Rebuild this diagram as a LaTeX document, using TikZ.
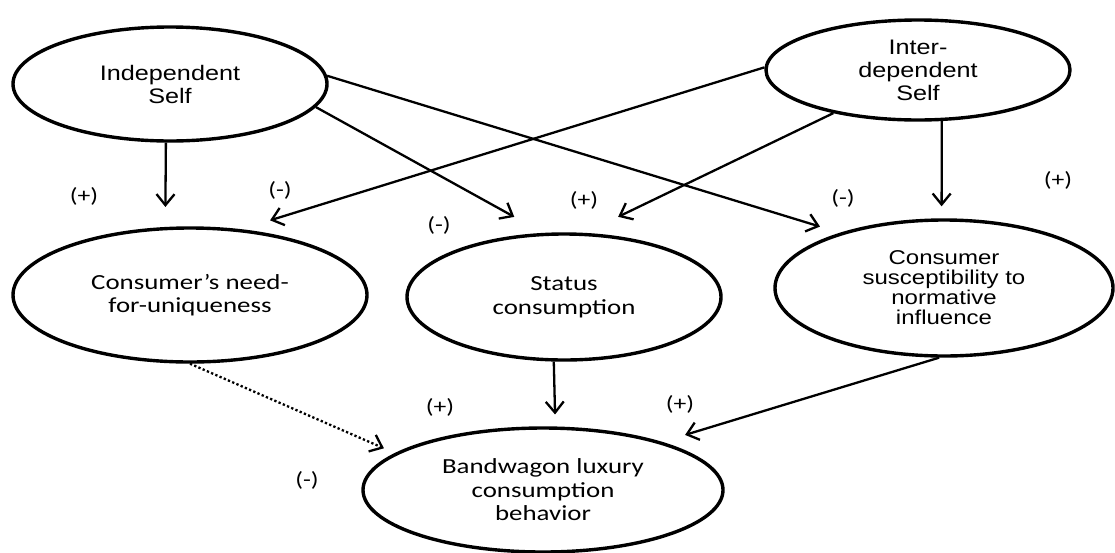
\documentclass[tikz,border=0pt]{standalone}
\usepackage{fontspec}
\usepackage{tikz}
\usetikzlibrary{arrows.meta, shapes.geometric}
\newfontfamily\arialfont[FakeStretch=1.2]{Liberation Sans}
\newfontfamily\califont[FakeStretch=1.25]{Carlito}

\begin{document}
\begin{tikzpicture}[x=1pt, y=-1pt,
  bubble/.style={ellipse, draw, line width=3.4pt, inner sep=0pt, align=center},
  arialtext/.style={font=\arialfont\fontsize{21}{23}\selectfont},
  calitext/.style={font=\califont\fontsize{21.5}{23.5}\selectfont},
  arr/.style={-{Straight Barb[length=11pt,width=18pt]}, line width=2.3pt},
  sign/.style={font=\califont\fontsize{20.5}{22}\selectfont}]
\useasboundingbox (0,0) rectangle (1115,552);
\node[bubble, arialtext, minimum width=314pt, minimum height=114pt] (indep) at (170,84) {Independent\\Self};
\node[bubble, arialtext, minimum width=304pt, minimum height=100pt] (inter) at (918,70) {Inter-\\dependent\\Self};
\node[bubble, calitext, minimum width=354pt, minimum height=134pt] (need) at (190,295) {Consumer’s need-\\for-uniqueness};
\node[bubble, calitext, minimum width=314pt, minimum height=126pt] (status) at (564,297) {Status\\consumption};
\node[bubble, font=\arialfont\fontsize{20}{20}\selectfont, minimum width=338pt, minimum height=136pt] (susc) at (944,288) {Consumer\\susceptibility to\\normative\\influence};
\node[bubble, calitext, minimum width=360pt, minimum height=124pt] (band) at (543,490) {Bandwagon luxury\\consumption\\behavior};
\draw[arr, shorten >=20pt] (indep.266) -- (need.110);
\draw[arr, shorten >=33pt] (indep.-9.5) -- (status.108);
\draw[arr, shorten >=21pt] (indep.3) -- (susc.152.4);
\draw[arr, shorten >=30pt] (inter.179) -- (need.52.2);
\draw[arr, shorten >=37pt] (inter.207) -- (status.72);
\draw[arr, shorten >=12pt] (inter.295) -- (susc.92);
\draw[arr, dash pattern=on 2.3pt off 2.3pt, shorten >=12pt] (need.south) -- (band.166.7);
\draw[arr, shorten >=12pt] (status.261.9) -- (band.79);
\draw[arr, shorten >=24pt] (susc.266) -- (band.22.8);
\node[sign] (s1) at (84,196) {(+)};
\node[sign] (s2) at (280,190) {(-)};
\node[sign] (s3) at (439,225) {(-)};
\node[sign] (s4) at (584,200) {(+)};
\node[sign] (s5) at (843,198) {(-)};
\node[sign] (s6) at (1058,180) {(+)};
\node[sign] (s7) at (440,407) {(+)};
\node[sign] (s8) at (680,404) {(+)};
\node[sign] (s9) at (307,480) {(-)};
\end{tikzpicture}
\end{document}
